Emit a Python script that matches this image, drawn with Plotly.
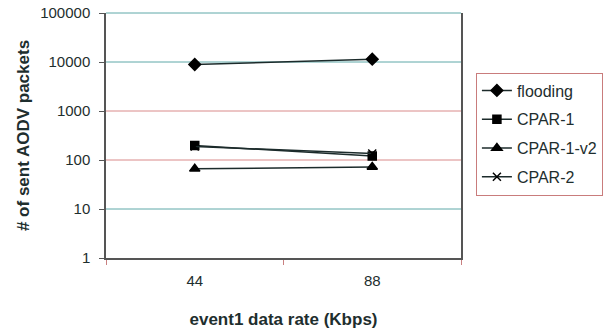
import plotly.graph_objects as go

categories = ["44", "88"]
flooding = [8900, 11400]
cpar1 = [198, 120]
cpar1_v2 = [66, 72]
cpar2 = [188, 136]
y_ticks = [1, 10, 100, 1000, 10000, 100000]
y_tick_labels = ["1", "10", "100", "1000", "10000", "100000"]
grid_colors = ["#555555", "#5fa8a8", "#d98a8a", "#d98a8a", "#5fa8a8", "#5fa8a8"]

series = [
    ("flooding", flooding, "diamond", 9),
    ("CPAR-1", cpar1, "square", 8),
    ("CPAR-1-v2", cpar1_v2, "triangle-up", 9),
    ("CPAR-2", cpar2, "x-thin", 8),
]

fig = go.Figure()
for name, vals, sym, sz in series:
    fig.add_trace(go.Scatter(
        x=categories, y=vals, name=name, mode="lines+markers", legendgroup=name,
        line=dict(color="#1c2b2b", width=1.5),
        marker=dict(symbol=sym, size=sz, color="#000000",
                    line=dict(color="#000000", width=1.5)),
    ))

for v, c in zip(y_ticks[1:-1], grid_colors[1:-1]):
    fig.add_shape(type="line", xref="paper", x0=0, x1=1, yref="y", y0=v, y1=v,
                  line=dict(color=c, width=1), layer="below")
# top gridline at the upper range edge
fig.add_shape(type="line", xref="paper", x0=0, x1=1, yref="paper", y0=1, y1=1,
              line=dict(color=grid_colors[-1], width=1), layer="above")

fig.update_layout(
    width=611, height=334,
    margin=dict(l=106, r=150, t=13, b=76, autoexpand=False),
    paper_bgcolor="white", plot_bgcolor="white",
    font=dict(family="Liberation Sans, Arial, sans-serif", color="#1e2e2e"),
    showlegend=True,
    legend=dict(x=1.042, y=0.255, xanchor="left", yanchor="bottom",
                bordercolor="#c97c7c", borderwidth=1,
                font=dict(size=16, color="#1e2e2e"),
                tracegroupgap=5, itemwidth=30),
    xaxis=dict(type="category", range=[-0.5, 1.5], showgrid=False, automargin=False,
               showline=True, linecolor="#555555", linewidth=1.5,
               ticks="outside", tickson="boundaries", ticklen=5, tickcolor="#c98080",
               tickfont=dict(size=15), ticklabelstandoff=8,
               title=dict(text="<b>event1 data rate (Kbps)</b>", font=dict(size=17), standoff=25)),
    yaxis=dict(type="log", range=[0, 5], tickvals=y_ticks, ticktext=y_tick_labels,
               showgrid=False, showline=True, linecolor="#555555", linewidth=1.5, automargin=False,
               mirror=True, ticks="outside", ticklen=5, tickcolor="#555555",
               tickfont=dict(size=15), ticklabelstandoff=6, ticklabeloverflow="allow",
               title=dict(text="<b># of sent AODV packets</b>", font=dict(size=17), standoff=6)),
)

fig.write_html("out.html", config={"displayModeBar": False},
               post_script="document.body.style.margin='0';")
